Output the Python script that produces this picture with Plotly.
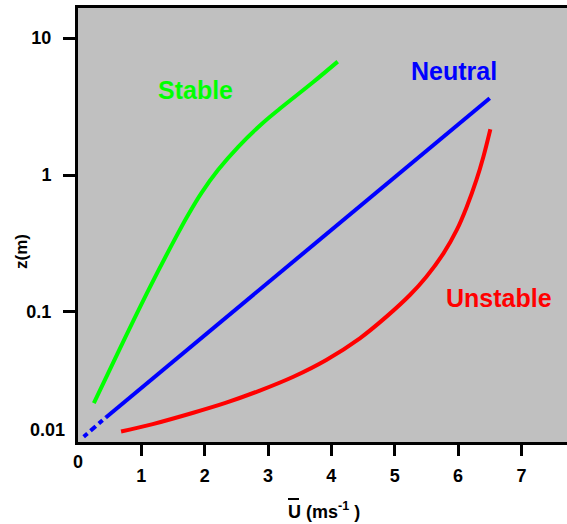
import plotly.graph_objects as go

# Mean wind speed profiles (m/s) against height z (m)
stable_u = [0.25, 0.68, 1.13, 1.55, 1.74, 1.95, 2.21, 2.53, 2.90, 3.19, 3.71, 4.10]
stable_z = [0.0216, 0.0564, 0.150, 0.355, 0.513, 0.741, 1.087, 1.607, 2.356, 3.055, 4.75, 6.72]

neutral_u_dash = [0.09, 0.44]
neutral_z_dash = [0.0123, 0.0170]
neutral_u = [0.44, 3.50, 6.50]
neutral_z = [0.0170, 0.254, 3.63]

unstable_u = [0.68, 1.18, 1.82, 2.34, 2.87, 3.40, 3.92, 4.45, 4.87, 5.24, 5.50,
              5.77, 5.98, 6.135, 6.29, 6.40, 6.51]
unstable_z = [0.0134, 0.0152, 0.0184, 0.0218, 0.0267, 0.0337, 0.0447, 0.0643, 0.0925,
              0.133, 0.181, 0.268, 0.397, 0.582, 0.920, 1.36, 2.16]

x_ticks = [1, 2, 3, 4, 5, 6, 7]
y_ticks = [0.1, 1, 10]
y_tick_text = ["0.1", "1", "10"]

FONT = "Liberation Sans, Arial, Helvetica, sans-serif"
GREEN, BLUE, RED = "#00ff00", "#0000ff", "#ff0000"

# plot-area geometry in pixels, used to place labels outside the axes
L, T, W, H = 78, 8, 489, 434


def px(x):
    return (x - L) / W


def py(y):
    return (T + H - y) / H


fig = go.Figure()
fig.add_trace(go.Scatter(x=stable_u, y=stable_z, mode="lines",
                         line=dict(color=GREEN, width=4, shape="spline")))
fig.add_trace(go.Scatter(x=neutral_u_dash, y=neutral_z_dash, mode="lines",
                         line=dict(color=BLUE, width=4, dash="5px,4px,7px,4px")))
fig.add_trace(go.Scatter(x=neutral_u, y=neutral_z, mode="lines",
                         line=dict(color=BLUE, width=4)))
fig.add_trace(go.Scatter(x=unstable_u, y=unstable_z, mode="lines",
                         line=dict(color=RED, width=4, shape="spline")))

label_font = dict(family=FONT, size=25, weight="bold")
black18 = dict(family=FONT, size=18, weight="bold", color="black")
annotations = [
    dict(x=1.86, y=0.620, xref="x", yref="y", text="Stable", showarrow=False,
         font=dict(label_font, color=GREEN)),
    dict(x=5.93, y=0.759, xref="x", yref="y", text="Neutral", showarrow=False,
         font=dict(label_font, color=BLUE)),
    dict(x=6.65, y=-0.898, xref="x", yref="y", text="Unstable", showarrow=False,
         font=dict(label_font, color=RED)),
    # origin labels placed beside the axes
    dict(x=px(78), y=py(461.5), xref="paper", yref="paper", text="0", showarrow=False,
         xanchor="center", yanchor="middle", font=black18),
    dict(x=px(67), y=py(430), xref="paper", yref="paper", text="0.01", showarrow=False,
         xanchor="right", yanchor="middle", font=black18),
    # axis titles
    dict(x=px(21), y=py(252), xref="paper", yref="paper", text="z(m)", showarrow=False,
         textangle=-90, xanchor="center", yanchor="middle",
         font=dict(family=FONT, size=17, weight="bold", color="black")),
    dict(x=px(286), y=py(510), xref="paper", yref="paper",
         text="U (ms<sup>-1</sup> )", showarrow=False,
         xanchor="left", yanchor="middle",
         font=dict(family=FONT, size=18, weight="bold", color="black")),
]

# bar over the U of the x-axis title
shapes = [
    dict(type="line", xref="paper", yref="paper",
         x0=px(288), x1=px(299), y0=py(499), y1=py(499),
         line=dict(color="black", width=2)),
]

fig.update_layout(
    width=567, height=524,
    margin=dict(l=L, r=0, t=T, b=524 - T - H),
    paper_bgcolor="white",
    plot_bgcolor="#c0c0c0",
    showlegend=False,
    annotations=annotations,
    shapes=shapes,
    font=dict(family=FONT, size=18, color="black", weight="bold"),
)
fig.update_xaxes(
    range=[0, 7.72], tickvals=x_ticks, ticks="outside", ticklen=11, tickwidth=2.5,
    tickcolor="black", showline=True, linewidth=3, linecolor="black", mirror=True,
    showgrid=False, zeroline=False, ticklabelstandoff=4,
    tickfont=dict(family=FONT, size=18, weight="bold"),
)
fig.update_yaxes(
    type="log", range=[-1.949, 1.219], tickvals=y_ticks, ticktext=y_tick_text,
    ticks="outside", ticklen=12, tickwidth=2.5, tickcolor="black",
    showline=True, linewidth=3, linecolor="black", showgrid=False, zeroline=False,
    ticklabelstandoff=8, tickfont=dict(family=FONT, size=18, weight="bold"),
)

fig.write_html("out.html")
